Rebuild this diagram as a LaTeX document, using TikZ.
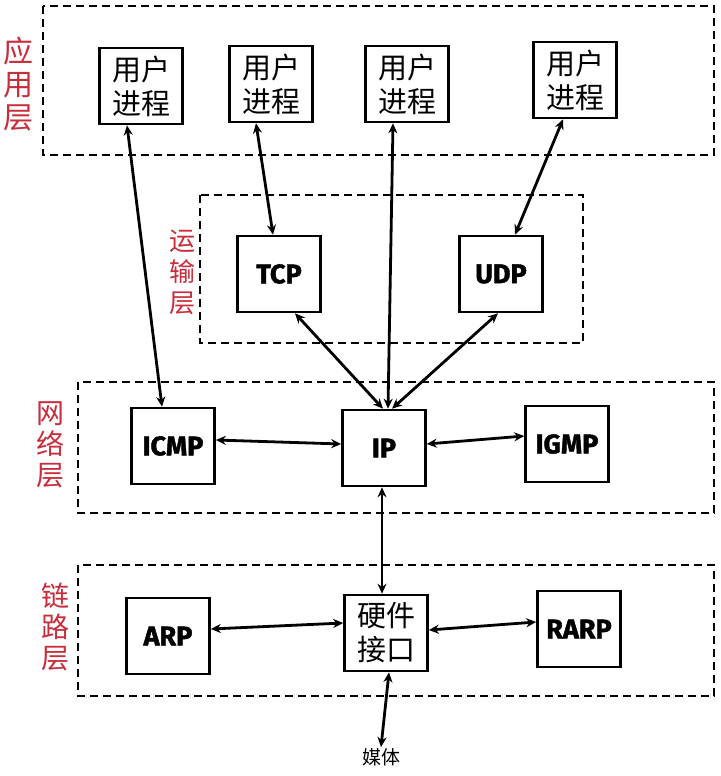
\documentclass[tikz,border=0pt]{standalone}
\usepackage{fontspec}
\newfontfamily\cjk{Noto Sans CJK SC}
\newfontfamily\proto[BoldFeatures={FakeBold=1.6}]{Fira Sans}
\usetikzlibrary{arrows.meta, positioning}
\definecolor{layerred}{RGB}{200,45,60}

\begin{document}
\begin{tikzpicture}[x=1pt, y=-1pt,
    box/.style={rectangle, draw, line width=2.6pt, minimum width=83pt, minimum height=76pt, inner sep=0pt},
    proc/.style={box, font=\cjk\fontsize{29}{34}\selectfont, align=center},
    proto/.style={box, font=\proto\bfseries\fontsize{27}{30}\selectfont},
    layer/.style={draw, dashed, line width=2.6pt, dash pattern=on 8pt off 5pt},
    tag/.style={text=layerred, align=center, inner sep=0pt},
    link/.style={<->, line width=2.8pt},
    >={Stealth[length=10pt, width=9pt]}
    ]
    \useasboundingbox (0,0) rectangle (720,776);

    % layer frames
    \draw[layer] (43,6) rectangle (714,155);
    \draw[layer] (200,195) rectangle (583,343);
    \draw[layer] (78,382) rectangle (714,513);
    \draw[layer] (78,565) rectangle (714,696);

    % layer names
    \node[tag, font=\cjk\fontsize{30}{33}\selectfont] (app) at (18,84) {应\\用\\层};
    \node[tag, font=\cjk\fontsize{26}{31}\selectfont] (trans) at (182,272) {运\\输\\层};
    \node[tag, font=\cjk\fontsize{28}{31}\selectfont] (net) at (50,445) {网\\络\\层};
    \node[tag, font=\cjk\fontsize{28}{31}\selectfont] (lnk) at (55,627) {链\\路\\层};

    % application
    \node[proc] (p1) at (141,86) {用户\\进程};
    \node[proc] (p2) at (271,84) {用户\\进程};
    \node[proc] (p3) at (407,84) {用户\\进程};
    \node[proc] (p4) at (575,80) {用户\\进程};

    % transport
    \node[proto] (tcp) at (279,274) {TCP};
    \node[proto] (udp) at (501,274) {UDP};

    % network
    \node[proto] (icmp) at (173,446) {ICMP};
    \node[proto] (ip) at (384,448) {IP};
    \node[proto] (igmp) at (567,444) {IGMP};

    % link
    \node[proto] (arp) at (168,636) {ARP};
    \node[proc] (hw) at (386,633) {硬件\\接口};
    \node[proto] (rarp) at (579,629) {RARP};
    \node[font=\cjk\fontsize{19}{22}\selectfont, inner sep=1pt] (media) at (381,757) {媒体};

    \draw[link] ([xshift=-14pt]p1.south) -- ([xshift=-11pt]icmp.north);
    \draw[link] ([xshift=-15pt]p2.south) -- ([xshift=-6pt]tcp.north);
    \draw[link] ([xshift=-14pt]p3.south) -- ([xshift=4pt]ip.north);
    \draw[link] ([xshift=-12pt]p4.south) -- ([xshift=14pt]udp.north);
    \draw[link] ([xshift=16pt]tcp.south) -- ([xshift=-1pt]ip.north);
    \draw[link] ([xshift=-3pt]udp.south) -- ([xshift=8pt]ip.north);
    \draw[link] ([yshift=6pt]icmp.east) -- ([yshift=4pt]ip.west);
    \draw[link] ([yshift=4pt]ip.east) -- ([yshift=8pt]igmp.west);
    \draw[link] ([xshift=-2pt]ip.south) -- ([xshift=-4pt]hw.north);
    \draw[link] ([yshift=7pt]arp.east) -- ([yshift=10pt]hw.west);
    \draw[link] ([yshift=3pt]hw.east) -- ([yshift=7pt]rarp.west);
    \draw[link] ([xshift=3pt]hw.south) -- (media.north);
\end{tikzpicture}
\end{document}
